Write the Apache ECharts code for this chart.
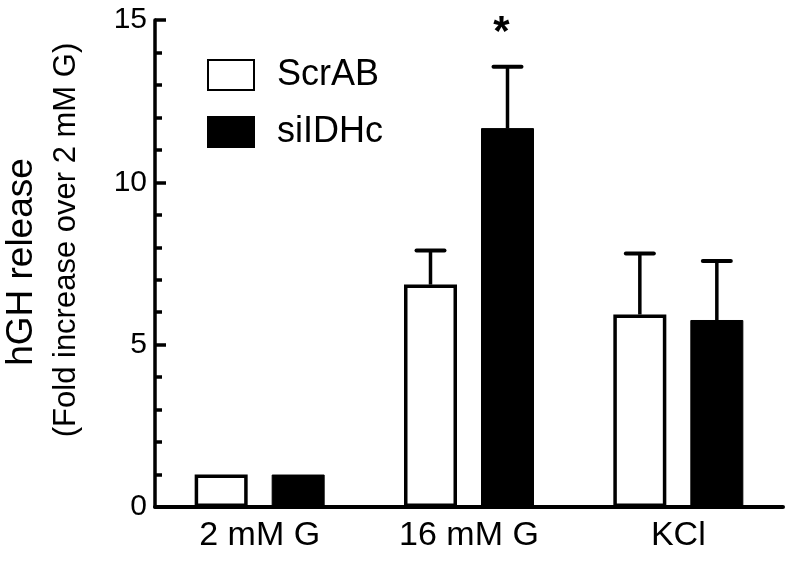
<!DOCTYPE html>
<html>
<head>
<meta charset="utf-8">
<script src="https://cdn.jsdelivr.net/npm/echarts@6/dist/echarts.min.js"></script>
<style>html,body{margin:0;padding:0;background:#fff}#c{width:792px;height:563px}</style>
</head>
<body>
<div id="c"></div>
<script>
// ---- data ----
var categories = ['2 mM G', '16 mM G', 'KCl'];
var seriesNames = ['ScrAB', 'siIDHc'];
var scrabValues = [1.0, 6.85, 5.93];
var scrabErrors = [0, 1.05, 1.88];
var siidhcValues = [1.0, 11.67, 5.76];
var siidhcErrors = [0, 1.89, 1.82];
var siidhcSignificance = ['', '*', ''];
var yTicks = [0, 5, 10, 15];

// ---- style constants ----
var FONT = 'Liberation Sans, Arial, sans-serif';
var BAR_W = 53;
var BAR_GAP_PX = 24;
var OFFSET = (BAR_W + BAR_GAP_PX) / 2;

var chart = echarts.init(document.getElementById('c'), null, {renderer: 'canvas'});

function errRender(values, errors, sign, marks) {
  return function (params, api) {
    var i = api.value(0);
    var v = values[i], e = errors[i];
    var base = api.coord([i, v]);
    var top = api.coord([i, v + e]);
    var x = base[0] + sign * OFFSET;
    var children = [];
    if (e > 0) {
      children.push({type: 'line', shape: {x1: x, y1: base[1], x2: x, y2: top[1]},
        style: {stroke: '#000', lineWidth: 3.5}});
      children.push({type: 'line', shape: {x1: x - 14, y1: top[1], x2: x + 14, y2: top[1]},
        style: {stroke: '#000', lineWidth: 4, lineCap: 'round'}});
    }
    if (marks && marks[i]) {
      children.push({type: 'text', style: {text: marks[i], x: x - 6, y: top[1] - 33,
        align: 'center', verticalAlign: 'middle', font: 'bold 42px ' + FONT, fill: '#000'}});
    }
    return {type: 'group', children: children};
  };
}

var option = {
  backgroundColor: '#fff',
  animation: false,
  grid: {left: 155, right: 9, top: 20, bottom: 56, containLabel: false},
  legend: {
    orient: 'vertical', left: 207, top: 57, padding: 0,
    itemWidth: 46, itemHeight: 30, itemGap: 21,
    icon: 'rect',
    data: seriesNames,
    textStyle: {fontFamily: FONT, fontSize: 36, color: '#000', padding: [0, 0, 0, 18]}
  },
  xAxis: {
    type: 'category', data: categories,
    axisLine: {lineStyle: {color: '#000', width: 4}},
    axisTick: {show: false},
    axisLabel: {fontFamily: FONT, fontSize: 34, color: '#000', margin: 12}
  },
  yAxis: {
    type: 'value', min: yTicks[0], max: yTicks[yTicks.length - 1], interval: 5,
    axisLine: {show: true, lineStyle: {color: '#000', width: 3.5}},
    axisTick: {show: true, inside: true, length: 11, lineStyle: {color: '#000', width: 3.5}},
    minorTick: {show: true, splitNumber: 5, length: 7, lineStyle: {color: '#000', width: 3.5}},
    splitLine: {show: false},
    axisLabel: {fontFamily: FONT, fontSize: 30, color: '#000', margin: 8}
  },
  graphic: [
    {type: 'text', rotation: Math.PI / 2, x: 22, y: 262,
      style: {text: 'hGH release', font: '37px ' + FONT, fill: '#000', align: 'center', verticalAlign: 'middle'}},
    {type: 'text', rotation: Math.PI / 2, x: 66, y: 240,
      style: {text: '(Fold increase over 2 mM G)', font: '31px ' + FONT, fill: '#000', align: 'center', verticalAlign: 'middle'}}
  ],
  series: [
    {name: seriesNames[0], type: 'bar', data: scrabValues, barWidth: BAR_W,
      barGap: (BAR_GAP_PX / BAR_W * 100) + '%',
      itemStyle: {color: '#fff', borderColor: '#000', borderWidth: 3.5}},
    {name: seriesNames[1], type: 'bar', data: siidhcValues, barWidth: BAR_W,
      itemStyle: {color: '#000', borderColor: '#000', borderWidth: 1}},
    {type: 'custom', data: categories.map(function (c, i) { return [i]; }),
      renderItem: errRender(scrabValues, scrabErrors, -1, null), z: 5},
    {type: 'custom', data: categories.map(function (c, i) { return [i]; }),
      renderItem: errRender(siidhcValues, siidhcErrors, 1, siidhcSignificance), z: 5}
  ]
};
chart.setOption(option);
</script>
</body>
</html>
